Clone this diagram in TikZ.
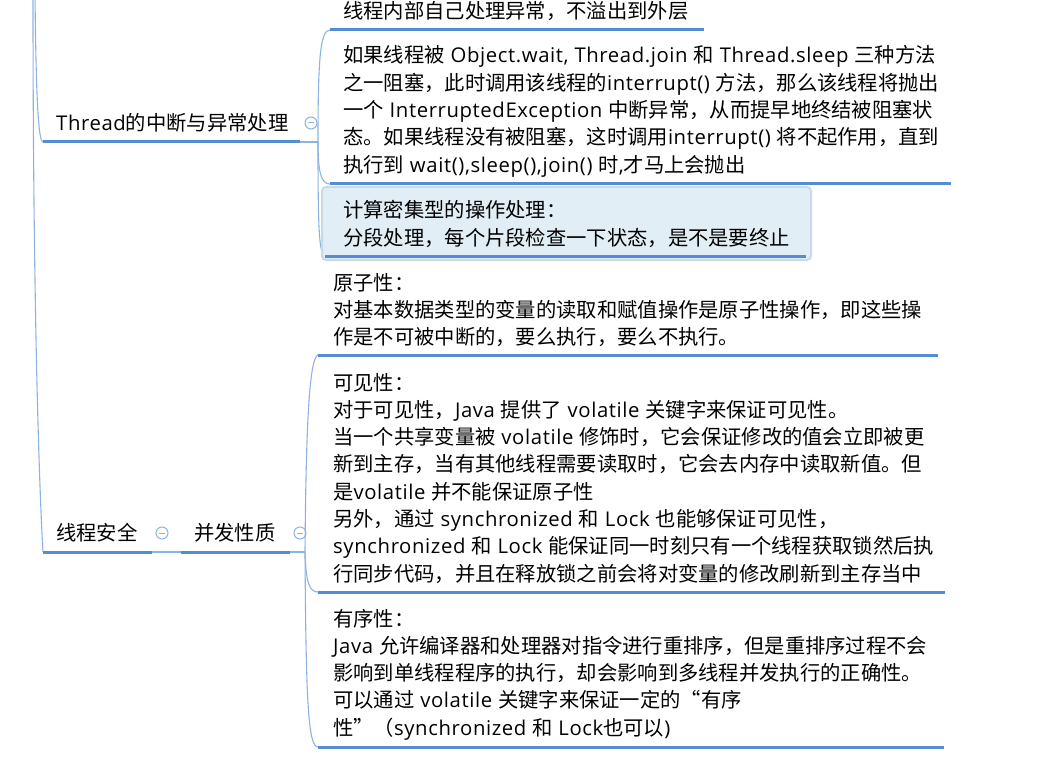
\documentclass[tikz,border=0pt]{standalone}
\usepackage{fontspec}
\setmainfont{Open Sans}[LetterSpace=3.0]
\newfontfamily\cjkfont{Noto Sans CJK SC}
\XeTeXinterchartokenstate=1
\newXeTeXintercharclass\CJKcls
\makeatletter
\def\cjkrange#1#2{\count@=#1\relax
  \loop\XeTeXcharclass\count@=\CJKcls\relax
  \ifnum\count@<#2\relax\advance\count@\@ne\repeat}
\makeatother
\cjkrange{"4E00}{"9FFF}
\cjkrange{"3000}{"303F}
\cjkrange{"FF00}{"FFEF}
\XeTeXcharclass"201C=\CJKcls
\XeTeXcharclass"201D=\CJKcls
\XeTeXinterchartoks 0 \CJKcls = {\cjkfont}
\XeTeXinterchartoks 4095 \CJKcls = {\cjkfont}
\XeTeXinterchartoks \CJKcls 0 = {\rmfamily}
\XeTeXinterchartoks \CJKcls 4095 = {\rmfamily}
\newcommand\mltext[1]{\vtop{\ialign{##\hfil\cr#1\crcr}}}
\definecolor{ublue}{RGB}{84,141,212}
\definecolor{cblue}{RGB}{141,179,226}
\definecolor{hfill}{RGB}{225,238,245}
\definecolor{hbord}{RGB}{200,218,234}
\begin{document}
\begin{tikzpicture}[x=1pt,y=-1pt,
  uline/.style={draw=ublue, line width=3pt},
  conn/.style={draw=cblue, line width=1.1pt},
  txt/.style={inner sep=0pt, anchor=base west, font=\fontsize{20.3}{27.3}\selectfont, text=black},
  fold/.style={circle, draw=cblue, fill=white, line width=1pt, minimum size=12pt, inner sep=0pt},
  hbox/.style={draw=hbord, fill=hfill, line width=2pt, rounded corners=4pt}]
\useasboundingbox (0,0) rectangle (1040,759);

% root connectors
\coordinate (root1) at (35,-5);
\coordinate (root2) at (33,-5);
\coordinate (thL) at (43,142);
\coordinate (thR) at (300,142);
\coordinate (hub1) at (318,142);
\coordinate (sL) at (43,552);
\coordinate (sR) at (152,552);
\coordinate (cL) at (181,552);
\coordinate (cR) at (290,552);
\coordinate (hub2) at (305,552);
\draw[conn] (root2) .. controls (33,350) and (41,520) .. (sL);
\draw[conn] (root1) .. controls (36,90) and (38,142) .. (thL);

% Thread node
\node[txt] (thread) at (56,131) {Thread的中断与异常处理};
\draw[uline] (thL) -- (thR);
\draw[conn] (thR) -- (hub1);
\node[fold] (f1) at (311,123) {};
\draw[cblue, line width=1pt] ([xshift=-3pt]f1.center) -- ([xshift=3pt]f1.center);

% children of Thread
\coordinate (t1L) at (330,30);
\coordinate (t1R) at (704,30);
\coordinate (t2L) at (330,184);
\coordinate (t2R) at (951,184);
\coordinate (t3L) at (325,256);
\coordinate (t3R) at (806,256);
\draw[conn] (hub1) .. controls (318,60) and (320,30) .. (t1L);
\draw[conn] (hub1) .. controls (318,172) and (321,184) .. (t2L);
\draw[conn] (hub1) .. controls (318,230) and (319,254) .. (t3L);

\node[txt] (t1) at (343,19) {线程内部自己处理异常，不溢出到外层};
\draw[uline] (t1L) -- (t1R);

\node[txt] (t2) at (343,63) {\mltext{%
如果线程被 Object.wait, Thread.join 和 Thread.sleep 三种方法\cr
之一阻塞，此时调用该线程的interrupt() 方法，那么该线程将抛出\cr
一个 InterruptedException 中断异常，从而提早地终结被阻塞状\cr
态。如果线程没有被阻塞，这时调用interrupt() 将不起作用，直到\cr
执行到 wait(),sleep(),join() 时,才马上会抛出}};
\draw[uline] (t2L) -- (t2R);

\path[hbox] (322,187) rectangle (811,260);
\node[txt] (t3) at (343,218) {\mltext{%
计算密集型的操作处理：\cr
分段处理，每个片段检查一下状态，是不是要终止}};
\draw[uline] (t3L) -- (t3R);

% 线程安全 / 并发性质
\node[txt] (safe) at (56,540) {线程安全};
\draw[uline] (sL) -- (sR);
\node[fold] (f2) at (162,533) {};
\draw[cblue, line width=1pt] ([xshift=-3pt]f2.center) -- ([xshift=3pt]f2.center);
\draw[conn] (sR) -- (cL);
\node[txt] (conc) at (194,540) {并发性质};
\draw[uline] (cL) -- (cR);
\draw[conn] (cR) -- (hub2);
\node[fold] (f3) at (300,533) {};
\draw[cblue, line width=1pt] ([xshift=-3pt]f3.center) -- ([xshift=3pt]f3.center);

\coordinate (a1L) at (318,355);
\coordinate (a1R) at (938,355);
\coordinate (a2L) at (318,592);
\coordinate (a2R) at (945,592);
\coordinate (a3L) at (318,747);
\coordinate (a3R) at (944,747);
\draw[conn] (hub2) .. controls (306,430) and (309,358) .. (a1L);
\draw[conn] (hub2) .. controls (306,582) and (309,592) .. (a2L);
\draw[conn] (hub2) .. controls (306,700) and (308,747) .. (a3L);

\node[txt] (a1) at (333,290) {\mltext{%
原子性：\cr
对基本数据类型的变量的读取和赋值操作是原子性操作，即这些操\cr
作是不可被中断的，要么执行，要么不执行。}};
\draw[uline] (a1L) -- (a1R);

\node[txt] (a2) at (333,390) {\mltext{%
可见性：\cr
对于可见性，Java 提供了 volatile 关键字来保证可见性。\cr
当一个共享变量被 volatile 修饰时，它会保证修改的值会立即被更\cr
新到主存，当有其他线程需要读取时，它会去内存中读取新值。但\cr
是volatile 并不能保证原子性\cr
另外，通过 synchronized 和 Lock 也能够保证可见性，\cr
synchronized 和 Lock 能保证同一时刻只有一个线程获取锁然后执\cr
行同步代码，并且在释放锁之前会将对变量的修改刷新到主存当中}};
\draw[uline] (a2L) -- (a2R);

\node[txt] (a3) at (333,626) {\mltext{%
有序性：\cr
Java 允许编译器和处理器对指令进行重排序，但是重排序过程不会\cr
影响到单线程程序的执行，却会影响到多线程并发执行的正确性。\cr
可以通过 volatile 关键字来保证一定的“有序\cr
性”（synchronized 和 Lock也可以)}};
\draw[uline] (a3L) -- (a3R);
\end{tikzpicture}
\end{document}
